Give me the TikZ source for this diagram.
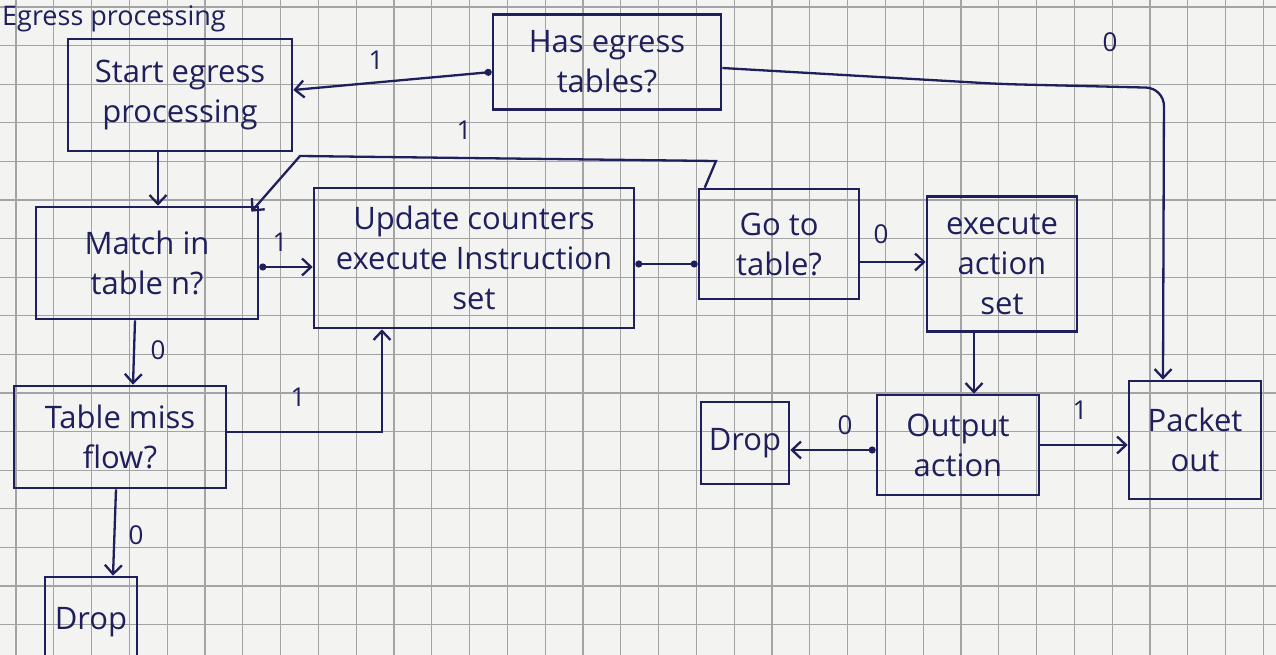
\documentclass[tikz,border=0pt]{standalone}
\usepackage{fontspec}
\setmainfont{Open Sans}
\usetikzlibrary{arrows.meta}
\definecolor{paper}{HTML}{F3F3F1}
\definecolor{gridc}{HTML}{A4A4A4}
\definecolor{ink}{HTML}{1F1F5C}
\begin{document}
\begin{tikzpicture}[x=1pt,y=-1pt,
  box/.style={draw=ink, line width=2.6pt, text=ink, align=center,
    font=\fontsize{31}{40}\selectfont, inner sep=4pt},
  conn/.style={draw=ink, line width=2.3pt,
    arrows={-Straight Barb[length=9pt,width=17pt]}},
  dotconn/.style={draw=ink, line width=2.3pt,
    arrows={Circle[length=7pt]-Straight Barb[length=9pt,width=17pt]}},
  plainlink/.style={draw=ink, line width=2.3pt,
    arrows={Circle[length=7pt]-Circle[length=7pt]}},
  lbl/.style={text=ink, font=\fontsize{26}{26}\selectfont, inner sep=0pt},
  gridline/.style={draw=gridc, line width=1.3pt},
]
\useasboundingbox (0,0) rectangle (1276,655);
\clip (0,0) rectangle (1276,655);
% squared paper
\fill[paper] (0,0) rectangle (1276,655);
\foreach \k in {0,...,33} \draw[gridline] (16+37.8*\k,0) -- (16+37.8*\k,655);
\foreach \k in {0,...,16} \draw[gridline] (0,7+38.6*\k) -- (1276,7+38.6*\k);

% heading
\node[anchor=base west, text=ink, font=\fontsize{27}{30}\selectfont, inner sep=0pt]
  (title) at (2,26) {Egress processing};

% steps
\node[box, minimum width=224pt, minimum height=112pt] (start) at (180,95) {Start egress\\processing};
\node[box, minimum width=228pt, minimum height=95pt]  (hasq)  at (607,62) {Has egress\\tables?};
\node[box, minimum width=222pt, minimum height=112pt] (match) at (147,263) {Match in\\table n?};
\node[box, minimum width=320pt, minimum height=140pt] (upd)   at (474,258) {Update counters\\execute Instruction\\set};
\node[box, minimum width=160pt, minimum height=110pt] (goto)  at (779,244) {Go to\\table?};
\node[box, minimum width=150pt, minimum height=135pt] (exec)  at (1002,264) {execute\\action\\set};
\node[box, minimum width=212pt, minimum height=102pt] (miss)  at (120,437) {Table miss\\flow?};
\node[box, minimum width=92pt,  minimum height=90pt]  (dropA) at (91,622) {Drop};
\node[box, minimum width=88pt,  minimum height=82pt]  (dropB) at (745,443) {Drop};
\node[box, minimum width=162pt, minimum height=100pt] (outact) at (958,445) {Output\\action};
\node[box, minimum width=132pt, minimum height=118pt] (pout)  at (1195,440) {Packet\\out};

% connectors
\draw[dotconn] ([yshift=-10pt]hasq.west) -- ([yshift=5pt]start.east);
\draw[conn, rounded corners=18pt] ([yshift=-6pt]hasq.east) -- (1000,84) -- (1164,88)
  -- ([xshift=-32pt]pout.north);
\draw[conn] ([xshift=-22pt]start.south) -- ([xshift=-22pt]start.south |- match.north);
\coordinate (loopR) at (716,161);
\coordinate (loopL) at (300,156);
\draw[conn] ([xshift=7pt]goto.north west) -- (loopR) -- (loopL)
  -- ([xshift=-8pt,yshift=-6pt]match.north east);
\draw[dotconn] ([yshift=-4pt]match.east) -- ([yshift=-4pt]match.east -| upd.west);
\draw[conn] ([xshift=-12pt]match.south) -- ([xshift=13pt]miss.north);
\draw[conn] ([yshift=5pt]miss.east) -| ([xshift=-92pt]upd.south);
\draw[conn] ([xshift=-4pt]miss.south) -- ([xshift=22pt]dropA.north);
\draw[plainlink] ([yshift=-6pt]upd.east) -- ([yshift=-6pt]upd.east -| goto.west);
\draw[conn] ([yshift=-18pt]goto.east) -- ([yshift=-18pt]goto.east -| exec.west);
\draw[conn] ([xshift=-28pt]exec.south) -- ([xshift=-28pt]exec.south |- outact.north);
\draw[dotconn] ([yshift=-5pt]outact.west) -- ([yshift=-5pt]outact.west -| dropB.east);
\draw[conn] (outact.east) -- (outact.east -| pout.west);

% branch labels
\node[lbl] (l1)  at (376,60)  {1};
\node[lbl] (l2)  at (1110,42) {0};
\node[lbl] (l3)  at (464,130) {1};
\node[lbl] (l4)  at (280,242) {1};
\node[lbl] (l5)  at (158,350) {0};
\node[lbl] (l6)  at (298,397) {1};
\node[lbl] (l7)  at (136,535) {0};
\node[lbl] (l8)  at (881,234) {0};
\node[lbl] (l9)  at (845,425) {0};
\node[lbl] (l10) at (1080,410) {1};
\end{tikzpicture}
\end{document}
